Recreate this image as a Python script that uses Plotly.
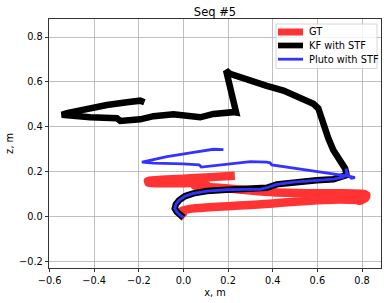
import plotly.graph_objects as go

# ---- data ----
gt_x = [0.005, -0.012, -0.005, 0.03, 0.10, 0.20, 0.30, 0.40, 0.50, 0.60, 0.70, 0.775, 0.79,
        0.815, 0.82, 0.80, 0.70, 0.60, 0.50, 0.40, 0.30, 0.20, 0.12, 0.08, 0.05, 0.10, 0.06,
        0.0, -0.08, -0.155, -0.16, -0.10, 0.0, 0.10, 0.23]
gt_y = [-0.003, 0.015, 0.028, 0.036, 0.042, 0.048, 0.053, 0.060, 0.068, 0.074, 0.078, 0.075, 0.072,
        0.085, 0.097, 0.103, 0.105, 0.105, 0.107, 0.110, 0.118, 0.127, 0.132, 0.135, 0.140, 0.150, 0.152,
        0.150, 0.150, 0.152, 0.160, 0.165, 0.170, 0.176, 0.183]

kf_x = [0.0, -0.015, -0.03, -0.039, -0.034, -0.019, 0.008, 0.045, 0.105, 0.194, 0.284, 0.343,
        0.373, 0.418, 0.492, 0.597, 0.672, 0.716, 0.731, 0.724, 0.701, 0.671, 0.649, 0.634, 0.620,
        0.604, 0.582, 0.522, 0.448, 0.373, 0.284, 0.209, 0.191, 0.201, 0.217, 0.236, 0.224, 0.134,
        0.075, 0.045, -0.045, -0.134, -0.194, -0.283, -0.290, -0.298, -0.418, -0.50, -0.545, -0.522,
        -0.462, -0.343, -0.253, -0.194, -0.175]
kf_y = [-0.002, 0.008, 0.023, 0.038, 0.057, 0.075, 0.093, 0.105, 0.115, 0.121, 0.123, 0.123,
        0.130, 0.145, 0.155, 0.163, 0.168, 0.177, 0.186, 0.216, 0.253, 0.298, 0.350, 0.394, 0.454,
        0.483, 0.503, 0.533, 0.562, 0.583, 0.610, 0.636, 0.651, 0.610, 0.535, 0.464, 0.466, 0.458,
        0.443, 0.446, 0.457, 0.448, 0.434, 0.427, 0.436, 0.439, 0.443, 0.449, 0.454, 0.462,
        0.475, 0.498, 0.510, 0.517, 0.510]

pluto_x = [0.0, -0.015, -0.03, -0.039, -0.034, -0.019, 0.008, 0.045, 0.105, 0.194, 0.284, 0.343,
           0.373, 0.418, 0.492, 0.597, 0.672, 0.716, 0.731, 0.728, 0.735, 0.752, 0.768, 0.745,
           0.640, 0.537, 0.420, 0.396, 0.388, 0.373, 0.300, 0.209, 0.134, 0.080, 0.070, 0.0,
           -0.134, -0.186, -0.130, -0.074, 0.045, 0.134, 0.179]
pluto_y = [-0.002, 0.008, 0.023, 0.038, 0.057, 0.075, 0.093, 0.105, 0.115, 0.121, 0.123, 0.123,
           0.130, 0.145, 0.155, 0.163, 0.168, 0.177, 0.186, 0.215, 0.190, 0.172, 0.175, 0.180,
           0.196, 0.212, 0.228, 0.231, 0.241, 0.244, 0.246, 0.236, 0.228, 0.222, 0.232, 0.236,
           0.239, 0.244, 0.256, 0.268, 0.287, 0.301, 0.299]

series_names = ["GT", "KF with STF", "Pluto with STF"]
series_colors = ["#ff3333", "#000000", "#3333ff"]
x_ticks = [-0.6, -0.4, -0.2, 0.0, 0.2, 0.4, 0.6, 0.8]
y_ticks = [-0.2, 0.0, 0.2, 0.4, 0.6, 0.8]


def fmt(v):
    return f"{v:.1f}".replace("-", "\u2212")


FONT = "DejaVu Sans"
W, H = 390, 303
ML, MR, MT, MB = 49, 9, 19, 35
PW, PH = W - ML - MR, H - MT - MB


def px_to_paper(px, py):
    return (px - ML) / PW, 1 - (py - MT) / PH


fig = go.Figure()
fig.add_trace(go.Scatter(x=gt_x, y=gt_y, mode="lines", name=series_names[0],
                         line=dict(color=series_colors[0], width=8.5, shape="spline", smoothing=0.5)))
fig.add_trace(go.Scatter(x=kf_x, y=kf_y, mode="lines", name=series_names[1],
                         line=dict(color=series_colors[1], width=6.5)))
fig.add_trace(go.Scatter(x=pluto_x, y=pluto_y, mode="lines", name=series_names[2],
                         line=dict(color=series_colors[2], width=2.8)))

axis_common = dict(
    showline=True, mirror=True, linecolor="black", linewidth=0.8,
    ticks="outside", ticklen=3.5, tickwidth=0.8, tickcolor="black",
    showgrid=True, gridcolor="#b0b0b0", gridwidth=0.8, zeroline=False,
    tickfont=dict(family=FONT, size=9.8, color="black"), automargin=False,
)

# ---- legend drawn as a matplotlib-style box ----
shapes = []
annotations = []
bx0, by0 = px_to_paper(276, 24)
bx1, by1 = px_to_paper(377, 68.5)
shapes.append(dict(type="rect", xref="paper", yref="paper", x0=bx0, y0=by1, x1=bx1, y1=by0,
                   fillcolor="rgba(255,255,255,0.8)", line=dict(color="#cccccc", width=0.8),
                   layer="above"))
legend_rows = [32, 45.5, 59.2]
legend_widths = [7, 5.7, 2.8]
for name, col, lw, ry in zip(series_names, series_colors, legend_widths, legend_rows):
    lx0, ly = px_to_paper(278, ry)
    lx1, _ = px_to_paper(303, ry)
    shapes.append(dict(type="line", xref="paper", yref="paper", x0=lx0, y0=ly, x1=lx1, y1=ly,
                       line=dict(color=col, width=lw), layer="above"))
    tx, ty = px_to_paper(307, ry)
    annotations.append(dict(text=name, xref="paper", yref="paper", x=tx, y=ty,
                            xanchor="left", yanchor="middle", showarrow=False,
                            font=dict(family=FONT, size=9.8, color="black")))

fig.update_layout(
    width=W, height=H,
    margin=dict(l=ML, r=MR, t=MT, b=MB),
    paper_bgcolor="white", plot_bgcolor="white",
    font=dict(family=FONT, size=9.8, color="black"),
    title=dict(text="Seq #5", x=0.5, xref="paper", y=1 - 11.7 / H, yref="container",
               xanchor="center", yanchor="middle",
               font=dict(family=FONT, size=11.5, color="black")),
    xaxis=dict(range=[-0.6025, 0.885], tickvals=x_ticks, ticktext=[fmt(v) for v in x_ticks],
               title=dict(text="x, m", standoff=3, font=dict(family=FONT, size=9.8)),
               **axis_common),
    yaxis=dict(range=[-0.2268, 0.880], tickvals=y_ticks, ticktext=[fmt(v) for v in y_ticks],
               title=dict(text="z, m", standoff=3, font=dict(family=FONT, size=9.8)),
               **axis_common),
    showlegend=False,
    shapes=shapes,
    annotations=annotations,
)

fig.write_html("out.html",
               config={"displayModeBar": False, "staticPlot": True},
               post_script="document.body.style.margin='0';document.body.style.overflow='hidden';")
